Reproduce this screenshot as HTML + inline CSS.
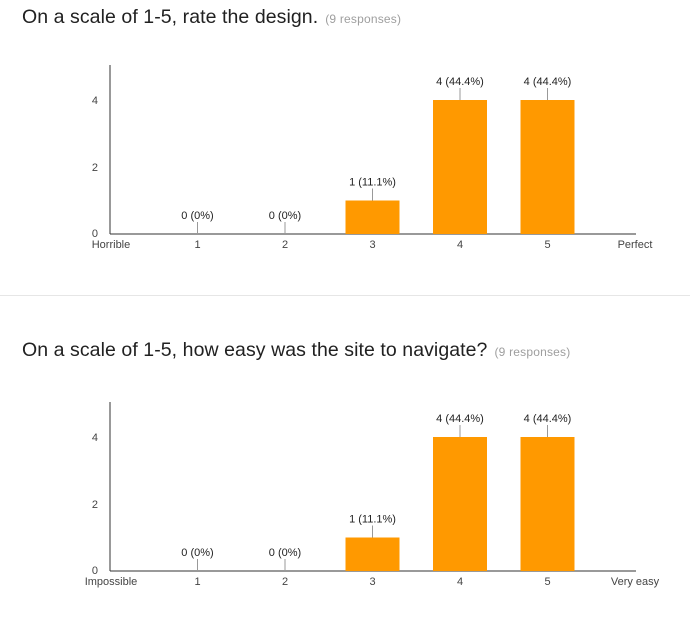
<!DOCTYPE html>
<html><head><meta charset="utf-8"><style>
body{margin:0;background:#fff;width:690px;height:623px;overflow:hidden;font-family:"Liberation Sans",Arial,sans-serif;}
.title{position:absolute;left:22px;font-size:19.5px;letter-spacing:0.07px;color:#212121;white-space:nowrap}
.title span{font-size:12px;letter-spacing:0.2px;color:#9e9e9e;margin-left:7px}
.divider{position:absolute;left:0;width:690px;top:295px;height:1px;background:#e6e6e6}
svg{position:absolute;left:0}
</style></head><body>
<div class="title" style="top:6px">On a scale of 1-5, rate the design.<span>(9 responses)</span></div>
<div class="divider"></div>
<div class="title" style="top:339px">On a scale of 1-5, how easy was the site to navigate?<span>(9 responses)</span></div>
<svg id="c1" width="690" height="290" style="top:0"></svg>
<svg id="c2" width="690" height="290" style="top:337px"></svg>
<script>
const categories = ["1","2","3","4","5"];
const values1 = [0,0,1,4,4];
const values2 = [0,0,1,4,4];
const yTicks = [0,2,4];
const endLabels1 = ["Horrible","Perfect"];
const endLabels2 = ["Impossible","Very easy"];
const total = 9;
const NS="http://www.w3.org/2000/svg";
function el(p,t,a){const e=document.createElementNS(NS,t);for(const k in a)e.setAttribute(k,a[k]);p.appendChild(e);return e;}
function draw(svg,values,ends){
  const base=234, unit=33.5, x0=110, step=87.5;
  const X=i=>x0+i*step, Y=v=>base-v*unit;
  let a=el(svg,'line',{x1:x0,y1:65,x2:x0,y2:base,stroke:'#333','stroke-width':1});
  
  a=el(svg,'line',{x1:x0,y1:base,x2:X(6)+1,y2:base,stroke:'#333','stroke-width':1});
  
  yTicks.forEach(t=>{const e=el(svg,'text',{x:98,y:Y(t)+(t===0?3:4),'text-anchor':'end','font-size':11,fill:'#444'});e.textContent=t;
    });
  const lbls=[ends[0]].concat(categories,[ends[1]]);
  lbls.forEach((l,i)=>{const e=el(svg,'text',{x:X(i)+(i===0?1:0),y:base+14,'text-anchor':'middle','font-size':11,fill:'#444'});e.textContent=l;
    });
  values.forEach((v,k)=>{const i=k+1,cx=X(i),top=Y(v);
    if(v>0){const r=el(svg,'rect',{x:cx-27,y:top,width:54,height:base-top,fill:'#ff9900'});
      }
    const ln=el(svg,'line',{x1:cx,y1:top-12,x2:cx,y2:top,stroke:'#999','stroke-width':1});
    
    const pct=Math.round(v/total*1000)/10;
    const t=el(svg,'text',{x:cx,y:top-15,'text-anchor':'middle','font-size':11,fill:'#222'});
    t.textContent=v+' ('+pct+'%)';
    
  });
}
draw(document.getElementById('c1'),values1,endLabels1);
draw(document.getElementById('c2'),values2,endLabels2);
</script>
</body></html>
